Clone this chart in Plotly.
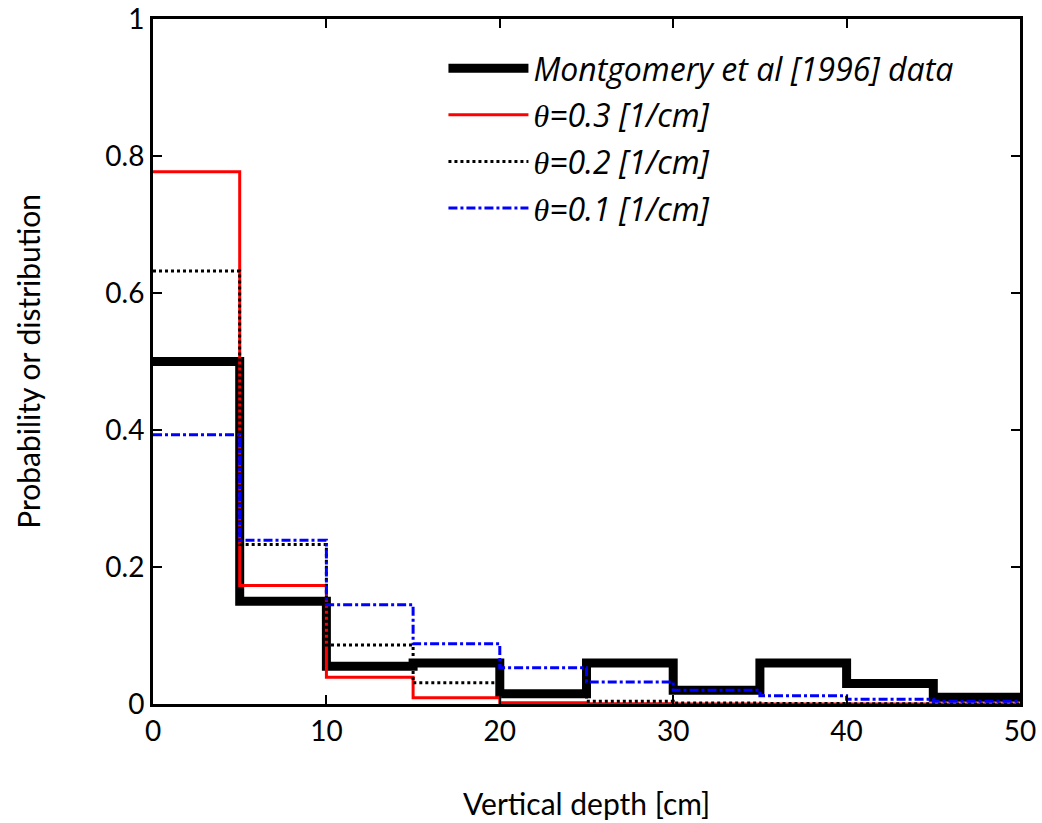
import plotly.graph_objects as go

bin_edges = [0, 5, 10, 15, 20, 25, 30, 35, 40, 45, 50]
data_vals = [0.50, 0.15, 0.055, 0.06, 0.015, 0.06, 0.02, 0.06, 0.03, 0.01]
theta03_vals = [0.777, 0.173, 0.039, 0.009, 0.002, 0.0004, 0.0001, 0.0, 0.0, 0.0]
theta02_vals = [0.632, 0.233, 0.086, 0.031, 0.012, 0.004, 0.0016, 0.0006, 0.0002, 0.0001]
theta01_vals = [0.393, 0.239, 0.145, 0.088, 0.053, 0.032, 0.020, 0.012, 0.007, 0.004]

x_title = "Vertical depth [cm]"
y_title = "Probability or distribution"
names = ["Montgomery et al [1996] data",
         '<span style="font-family:Liberation Serif">θ</span>=0.3 [1/cm]',
         '<span style="font-family:Liberation Serif">θ</span>=0.2 [1/cm]',
         '<span style="font-family:Liberation Serif">θ</span>=0.1 [1/cm]']
series = [data_vals, theta03_vals, theta02_vals, theta01_vals]
colors = ["black", "red", "black", "blue"]
widths = [9, 3, 3, 3]
dashes = ["solid", "solid", "dot", "dashdot"]

fig = go.Figure()
for i, (nm, vals, c, w, d) in enumerate(zip(names, series, colors, widths, dashes)):
    fig.add_trace(go.Scatter(
        x=bin_edges, y=list(vals) + [vals[-1]],
        mode="lines", line=dict(shape="hv", color=c, width=w, dash=d),
        legendgroup="g%d" % i,
        name="<i>" + nm + "</i>"))

axis_common = dict(showline=True, linecolor="black", linewidth=3, mirror="ticks",
                   ticks="inside", ticklen=9, tickwidth=2, tickcolor="black",
                   showgrid=False, zeroline=False, automargin=False,
                   tickfont=dict(family="Lato", size=28, color="black"))

fig.update_layout(
    width=1042, height=823,
    margin=dict(l=153, r=22, t=19, b=119),
    paper_bgcolor="white", plot_bgcolor="white",
    font=dict(family="Lato", color="black"),
    showlegend=True,
    legend=dict(x=0.335, y=0.968, xanchor="left", yanchor="top",
                bgcolor="rgba(0,0,0,0)", borderwidth=0,
                font=dict(family="Open Sans", size=32, color="black"),
                itemwidth=80, tracegroupgap=2, traceorder="grouped"),
    xaxis=dict(range=[0, 50], tickvals=[0, 10, 20, 30, 40, 50], **axis_common),
    yaxis=dict(range=[0, 1], tickvals=[0, 0.2, 0.4, 0.6, 0.8, 1],
               ticktext=["0", "0.2", "0.4", "0.6", "0.8", "1"], **axis_common),
    annotations=[
        dict(text=x_title, xref="paper", yref="paper", x=0.5, y=-0.1445,
             xanchor="center", yanchor="middle", showarrow=False,
             font=dict(family="Lato", size=30, color="black")),
        dict(text=y_title, xref="paper", yref="paper", x=-0.145, y=0.5,
             xanchor="center", yanchor="middle", showarrow=False, textangle=-90,
             font=dict(family="Lato", size=30, color="black")),
    ],
)

fig.write_html("out.html")
